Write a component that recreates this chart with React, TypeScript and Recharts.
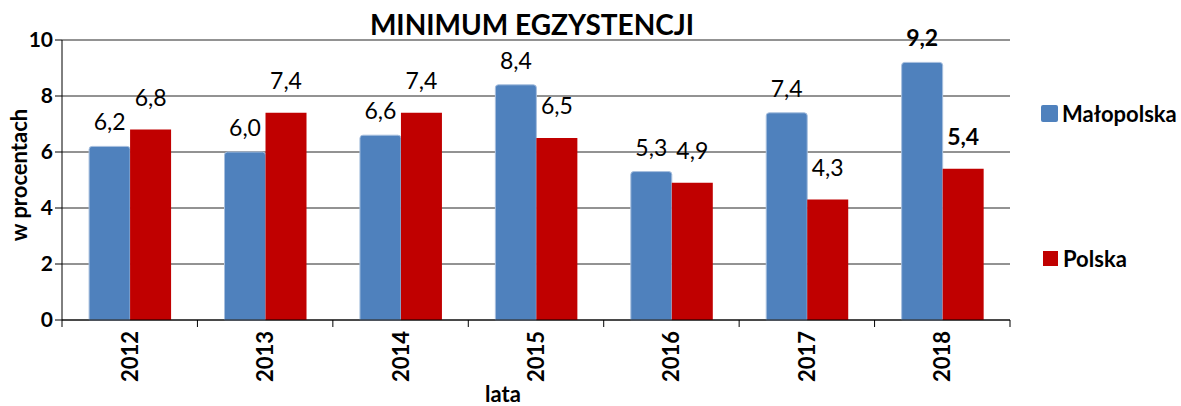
import { BarChart, Bar, XAxis, YAxis, CartesianGrid, LabelList, Label } from "recharts";

const years = ["2012", "2013", "2014", "2015", "2016", "2017", "2018"];
const malopolska = [6.2, 6.0, 6.6, 8.4, 5.3, 7.4, 9.2];
const polska = [6.8, 7.4, 7.4, 6.5, 4.9, 4.3, 5.4];
const yTicks = [0, 2, 4, 6, 8, 10];

const data = years.map((year, i) => ({
  year,
  malopolska: malopolska[i],
  polska: polska[i],
}));

const FONT = "Lato, 'Open Sans', sans-serif";
const BLUE = "#4F81BD";
const RED = "#C00000";

const W = 1181;
const H = 406;
const PLOT_LEFT = 62;
const PLOT_RIGHT = 1010;
const BAND = (PLOT_RIGHT - PLOT_LEFT) / years.length;

const fmt = (v: number) => v.toFixed(1).replace(".", ",");

function XTick(props: any) {
  const { x, y, payload, index } = props;
  const left = x - BAND / 2;
  return (
    <g>
      <line x1={left} x2={left} y1={y - 8} y2={y - 1} stroke="#000" />
      {index === years.length - 1 && (
        <line x1={left + BAND} x2={left + BAND} y1={y - 8} y2={y - 1} stroke="#000" />
      )}
      <text
        transform={`translate(${x + 8},${y + 3}) rotate(-90)`}
        textAnchor="end"
        fontFamily={FONT}
        fontWeight="bold"
        fontSize={22}
        fill="#000"
      >
        {payload.value}
      </text>
    </g>
  );
}

function makeLabel(dy: number) {
  return (props: any) => {
    const { x, y, width, value, index } = props;
    return (
      <text
        x={x + width / 2}
        y={y - dy}
        textAnchor="middle"
        fontFamily={FONT}
        fontSize={23}
        fontWeight={index === years.length - 1 ? "bold" : "normal"}
        fill="#000"
      >
        {fmt(value)}
      </text>
    );
  };
}

export default function App() {
  return (
    <div style={{ position: "absolute", left: 0, top: 0, width: W, height: H, background: "#fff" }}>
      <div
        style={{
          position: "absolute",
          left: 0,
          width: 1064,
          top: 7,
          textAlign: "center",
          fontFamily: FONT,
          fontWeight: "bold",
          fontSize: 28,
          color: "#000",
        }}
      >
        MINIMUM EGZYSTENCJI
      </div>
      <BarChart
        width={W}
        height={H}
        data={data}
        margin={{ top: 40, right: W - PLOT_RIGHT, left: 0, bottom: 0 }}
        barCategoryGap="20%"
        barGap={0}
      >
        <CartesianGrid vertical={false} stroke="#000" strokeOpacity={0.85} />
        <XAxis
          dataKey="year"
          height={86}
          axisLine={{ stroke: "#000" }}
          tickLine={false}
          tick={<XTick />}
          interval={0}
        >
          <Label
            value="lata"
            position="insideBottom"
            dx={-33}
            offset={4}
            style={{ fontFamily: FONT, fontWeight: "bold", fontSize: 22, fill: "#000" }}
          />
        </XAxis>
        <YAxis
          width={PLOT_LEFT}
          domain={[0, 10]}
          ticks={yTicks}
          axisLine={{ stroke: "#000" }}
          tickLine={{ stroke: "#000" }}
          tickSize={7}
          tick={{ fontFamily: FONT, fontWeight: "bold", fontSize: 21, fill: "#000" }}
        >
          <Label
            value="w procentach"
            angle={-90}
            position="insideLeft"
            dx={14}
            dy={-5}
            style={{ textAnchor: "middle", fontFamily: FONT, fontWeight: "bold", fontSize: 22, fill: "#000" }}
          />
        </YAxis>
        <Bar dataKey="malopolska" fill={BLUE} stroke="#A7BFDE" strokeWidth={1} radius={[3, 3, 0, 0]} isAnimationActive={false}>
          <LabelList dataKey="malopolska" content={makeLabel(16)} />
        </Bar>
        <Bar dataKey="polska" fill={RED} isAnimationActive={false}>
          <LabelList dataKey="polska" content={makeLabel(24)} />
        </Bar>
      </BarChart>
      <div style={{ position: "absolute", left: 1041, top: 100, display: "flex", alignItems: "center", fontFamily: FONT, fontWeight: "bold", fontSize: 22 }}>
        <span style={{ width: 17, height: 17, background: BLUE, borderRadius: 2, marginRight: 4, display: "inline-block" }} />
        Małopolska
      </div>
      <div style={{ position: "absolute", left: 1043, top: 245, display: "flex", alignItems: "center", fontFamily: FONT, fontWeight: "bold", fontSize: 22 }}>
        <span style={{ width: 15, height: 15, background: RED, marginRight: 5, display: "inline-block" }} />
        Polska
      </div>
    </div>
  );
}
